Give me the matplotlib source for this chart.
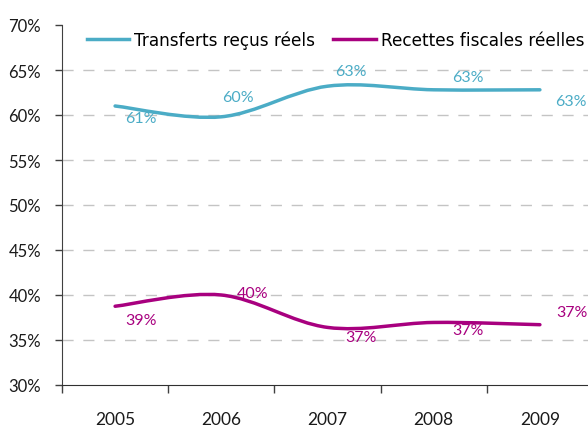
import numpy as np
import matplotlib
matplotlib.use("Agg")
import matplotlib.pyplot as plt
from matplotlib.path import Path
from matplotlib.patches import PathPatch
from matplotlib.lines import Line2D

years = ["2005", "2006", "2007", "2008", "2009"]
transferts = [61.0, 59.8, 63.2, 62.8, 62.8]
recettes = [38.75, 40.0, 36.4, 36.95, 36.7]
transferts_labels = ["61%", "60%", "63%", "63%", "63%"]
recettes_labels = ["39%", "40%", "37%", "37%", "37%"]
y_ticks = [30, 35, 40, 45, 50, 55, 60, 65, 70]
series_names = ["Transferts reçus réels", "Recettes fiscales réelles"]

TEAL = "#4BACC6"
PURPLE = "#A8007F"

plt.rcParams['font.family'] = ['Lato', 'DejaVu Sans']

fig = plt.figure(figsize=(5.88, 4.27), dpi=100)
ax = fig.add_axes([62/588, 1-386/427, (593-62)/588, (386-26)/427])

def smooth_path(xs, ys):
    xs = np.asarray(xs, float); ys = np.asarray(ys, float)
    n = len(xs)
    verts = [(xs[0], ys[0])]
    codes = [Path.MOVETO]
    for i in range(n-1):
        p0 = np.array([xs[max(i-1, 0)], ys[max(i-1, 0)]])
        p1 = np.array([xs[i], ys[i]])
        p2 = np.array([xs[i+1], ys[i+1]])
        p3 = np.array([xs[min(i+2, n-1)], ys[min(i+2, n-1)]])
        c1 = p1 + (p2 - p0) / 6.0
        c2 = p2 - (p3 - p1) / 6.0
        verts += [tuple(c1), tuple(c2), tuple(p2)]
        codes += [Path.CURVE4]*3
    return Path(verts, codes)

x = np.arange(len(years))
for vals, col in [(transferts, TEAL), (recettes, PURPLE)]:
    patch = PathPatch(smooth_path(x, vals), facecolor='none', edgecolor=col,
                      lw=2.5, capstyle='round', joinstyle='round', zorder=3)
    ax.add_patch(patch)

t_off = [(26, -12), (17, 19.5), (23, 15), (34, 13), (31, -11)]
r_off = [(26, -14), (31, 2), (33, -10), (34, -8), (32, 13)]
for i in range(len(years)):
    ax.annotate(transferts_labels[i], (x[i], transferts[i]), xytext=t_off[i],
                textcoords='offset pixels', ha='center', va='center',
                color=TEAL, fontsize=11.5, annotation_clip=False, zorder=4)
    ax.annotate(recettes_labels[i], (x[i], recettes[i]), xytext=r_off[i],
                textcoords='offset pixels', ha='center', va='center',
                color=PURPLE, fontsize=11.5, annotation_clip=False, zorder=4)

ax.set_xlim(-0.5, len(years)-0.5)
ax.set_ylim(30, 70)
ax.set_yticks(y_ticks)
ax.set_yticklabels([f"{v}%" for v in y_ticks])
for v in y_ticks[1:-1]:
    ax.axhline(v, color='#C4C4C4', lw=1, ls=(0, (8, 7)), zorder=1)

ax.set_xticks(np.arange(len(years)+1) - 0.5)
ax.set_xticklabels([])
ax.set_xticks(x, minor=True)
ax.set_xticklabels(years, minor=True)
ax.tick_params(axis='x', which='major', direction='out', length=6, width=1, color='#404040')
ax.tick_params(axis='x', which='minor', length=0, pad=19, labelsize=12.5, labelcolor='#1a1a1a')
ax.tick_params(axis='y', direction='out', length=5, width=1, color='#404040', pad=10,
               labelsize=12, labelcolor='#1a1a1a')

for s in ['top', 'right']:
    ax.spines[s].set_visible(False)
ax.spines['left'].set_color('#404040')
ax.spines['bottom'].set_color('#303030')

handles = [Line2D([], [], color=TEAL, lw=2.5), Line2D([], [], color=PURPLE, lw=2.5)]
fig.legend(handles, series_names, loc='center left', bbox_to_anchor=(87/588, 1-41/427),
           ncol=2, frameon=False, handlelength=2.5, handletextpad=0.3,
           columnspacing=1.05, borderaxespad=0, borderpad=0,
           prop={'family': ['DejaVu Sans'], 'size': 12.2})

fig.savefig("out.png", dpi=100)
